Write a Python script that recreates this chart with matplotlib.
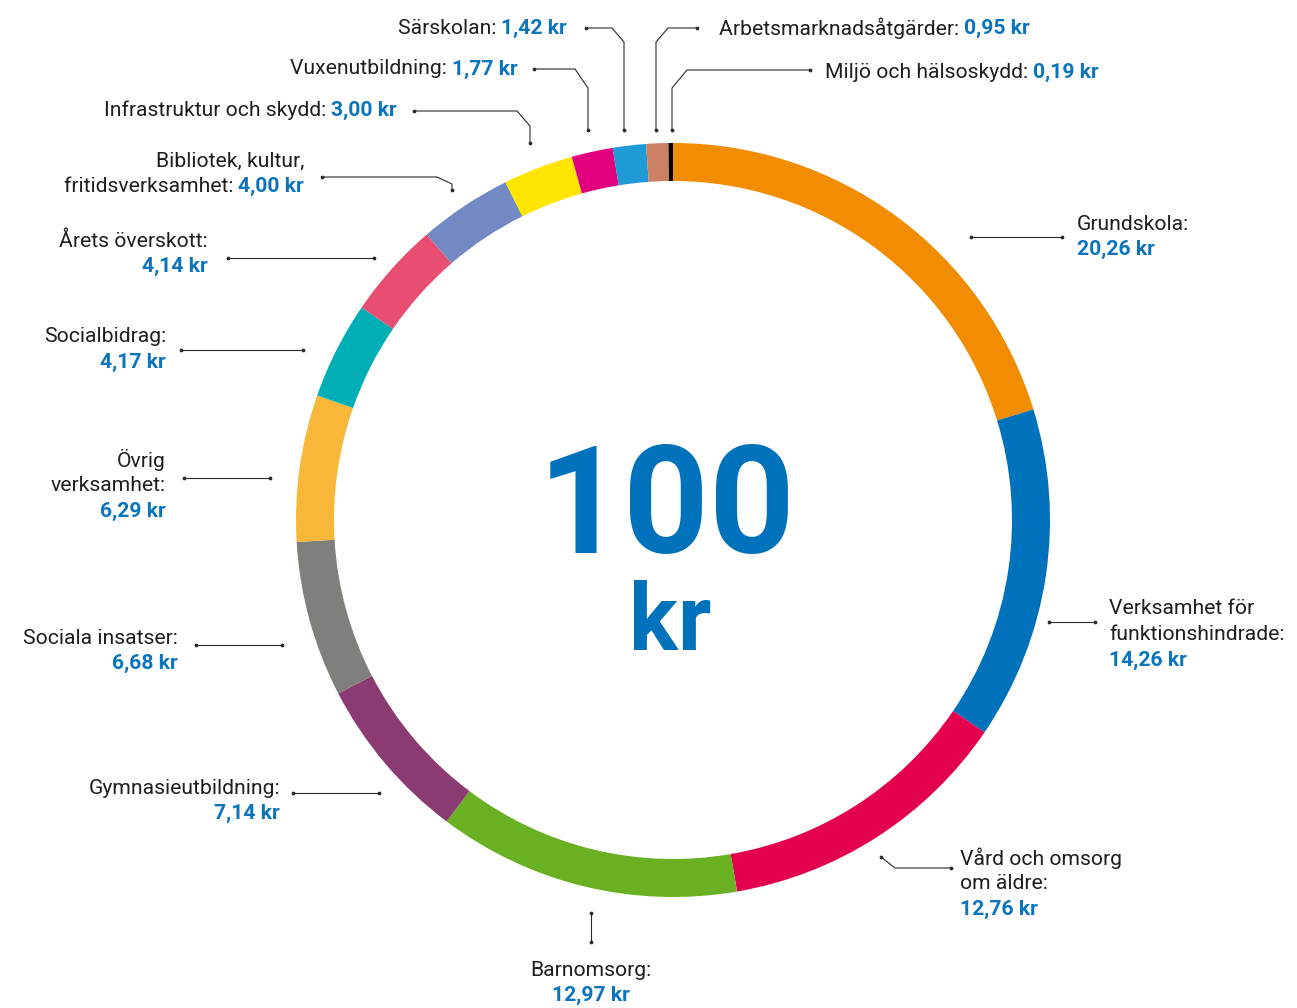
import matplotlib.pyplot as plt

# clockwise from 12 o'clock
categories = ['Grundskola', 'Verksamhet för\nfunktionshindrade', 'Vård och omsorg\nom äldre',
              'Barnomsorg', 'Gymnasieutbildning', 'Sociala insatser', 'Övrig\nverksamhet',
              'Socialbidrag', 'Årets överskott', 'Bibliotek, kultur,\nfritidsverksamhet',
              'Infrastruktur och skydd', 'Vuxenutbildning', 'Särskolan',
              'Arbetsmarknadsåtgärder', 'Miljö och hälsoskydd']
values = [20.26, 14.26, 12.76, 12.97, 7.14, 6.68, 6.29, 4.17, 4.14, 4.00,
          3.00, 1.77, 1.42, 0.95, 0.19]
colors = ['#F28C00', '#0072BB', '#E3004F', '#6AB023', '#8B3A72', '#7F807C', '#F9B73A',
          '#00AFB5', '#E84D72', '#7289C4', '#FFE500', '#E3007E', '#1E9BD7', '#CC8064', '#000000']
total = '100'

BLUE = '#0A74BD'
DARK = '#1E1E1E'
plt.rcParams['font.family'] = ['Roboto', 'DejaVu Sans']

fig = plt.figure(figsize=(12.97, 10.08), dpi=100)
ax = fig.add_axes([0, 0, 1, 1])

# y axis is inverted below, so counterclock=True turns into clockwise on screen
ax.pie(values, colors=colors, startangle=-90, counterclock=True,
       center=(673, 520), radius=377,
       wedgeprops=dict(width=38, linewidth=0))
ax.set_xlim(0, 1297)
ax.set_ylim(1008, 0)
ax.set_aspect('equal')
ax.axis('off')

# label layout: x, y of first line, alignment, value on own line?
layout = [
    (1077, 224, 'left', True),
    (1109, 609, 'left', True),
    (960, 858, 'left', True),
    (591, 970, 'center', True),
    (280, 788, 'right', True),
    (178, 638, 'right', True),
    (166, 460, 'right', True),
    (166, 337, 'right', True),
    (208, 241, 'right', True),
    (304, 161, 'right', False),
    (397, 110, 'right', False),
    (518, 69, 'right', False),
    (567, 28, 'right', False),
    (719, 28, 'left', False),
    (825, 72, 'left', False),
]

leaders = [
    [(971, 237), (1062, 237)],
    [(1049, 622), (1095, 622)],
    [(881, 857), (895, 868), (951, 868)],
    [(591, 913), (591, 942)],
    [(293, 793), (379, 793)],
    [(196, 645), (282, 645)],
    [(184, 478), (270, 478)],
    [(181, 350), (303, 350)],
    [(228, 258), (374, 258)],
    [(322, 177), (437, 177), (452, 184), (452, 190)],
    [(414, 111), (517, 111), (530, 126), (530, 143)],
    [(534, 69), (575, 69), (588, 88), (588, 130)],
    [(586, 28), (612, 28), (624, 42), (624, 130)],
    [(697, 28), (668, 28), (656, 42), (656, 130)],
    [(810, 70), (687, 70), (672, 88), (672, 130)],
]

fs = 15.2
lh = 25.5
for name, val, (x, y, ha, newline), pts in zip(categories, values, layout, leaders):
    vtxt = f'{val:.2f}'.replace('.', ',') + ' kr'
    lines = name.split('\n')
    for i, ln in enumerate(lines[:-1]):
        ax.text(x, y + i * lh, ln, ha=ha, va='center', fontsize=fs, color=DARK)
    last = lines[-1] + ':'
    ylast = y + (len(lines) - 1) * lh
    if newline:
        ax.text(x, ylast, last, ha=ha, va='center', fontsize=fs, color=DARK)
        ax.text(x, ylast + lh, vtxt, ha=ha, va='center', fontsize=fs, color=BLUE,
                fontweight='bold')
    elif ha == 'right':
        t = ax.text(x, ylast, vtxt, ha='right', va='center', fontsize=fs, color=BLUE,
                    fontweight='bold')
        ax.annotate(last + ' ', xy=(0, 0.5), xycoords=t, ha='right', va='center',
                    fontsize=fs, color=DARK)
    else:
        t = ax.text(x, ylast, last + ' ', ha='left', va='center', fontsize=fs, color=DARK)
        ax.annotate(vtxt, xy=(1, 0.5), xycoords=t, ha='left', va='center',
                    fontsize=fs, color=BLUE, fontweight='bold')

    xs = [p[0] for p in pts]
    ys = [p[1] for p in pts]
    ax.plot(xs, ys, color='#2a2a2a', lw=0.8)
    ax.plot([xs[0], xs[-1]], [ys[0], ys[-1]], 'o', color='#2a2a2a', ms=1.7)

ax.text(667, 553, total, ha='center', va='baseline', fontsize=108,
        fontweight='bold', color='#0072BB')
ax.text(670, 650, 'kr', ha='center', va='baseline', fontsize=66,
        fontweight='bold', color='#0072BB')

fig.savefig('out.png', dpi=100)
